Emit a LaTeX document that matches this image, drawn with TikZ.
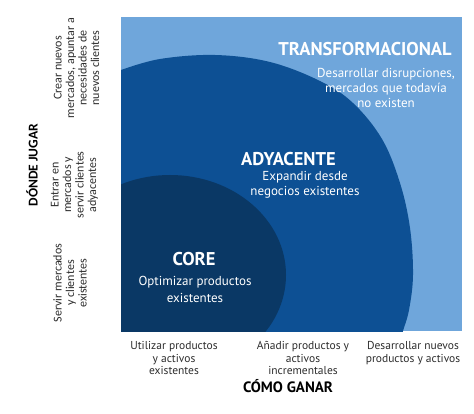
\documentclass[tikz,border=0pt]{standalone}
\usepackage{fontspec}
\setmainfont{PT Sans}
\newfontfamily\carlito{Carlito}
\definecolor{lightb}{RGB}{111,166,219}
\definecolor{midb}{RGB}{13,80,148}
\definecolor{darkb}{RGB}{10,56,101}
\definecolor{labgray}{RGB}{45,45,45}
\begin{document}
\begin{tikzpicture}[x=1pt,y=-1pt,
  ttl/.style={font=\bfseries\fontsize{18.5}{20}\selectfont, text=white, inner sep=0pt},
  sub/.style={font=\fontsize{13}{15}\selectfont, text=white, align=center, inner sep=0pt, anchor=north},
  lab/.style={font=\fontsize{11.5}{12.5}\selectfont, text=labgray, align=center, inner sep=0pt, anchor=north},
  side/.style={font=\carlito\fontsize{12}{12.5}\selectfont, text=labgray, align=center, inner sep=0pt, rotate=90},
  axis/.style={font=\bfseries\fontsize{15}{17}\selectfont, text=black, inner sep=0pt}]
\useasboundingbox (0,0) rectangle (474,414);
\fill[white] (0,0) rectangle (474,414);
\begin{scope}
\clip (121,17) rectangle (462,331);
\fill[lightb] (121,17) rectangle (462,331);
\fill[midb] (110,340) -- (110,73) -- plot[smooth, tension=0.6] coordinates {(121,70) (160,59) (215,55) (270,62) (320,81) (353,103) (382,139) (400,183) (410,228) (413,275) (409,310) (403,331) (401,340)} -- cycle;
\fill[darkb] (170,275) ellipse [x radius=116pt, y radius=100pt];
\end{scope}
% interior texts
\node[ttl] (tt) at (365,49.5) {TRANSFORMACIONAL};
\node[sub] (ts) at (386,68) {Desarrollar disrupciones,\\mercados que todavía\\no existen};
\node[ttl] (at) at (288.5,159) {ADYACENTE};
\node[sub] (as) at (305,171) {Expandir desde\\negocios existentes};
\node[ttl] (ct) at (194,259.5) {CORE};
\node[sub, font=\fontsize{13}{17}\selectfont] (cs) at (195,276.5) {Optimizar productos\\existentes};
% bottom labels
\node[lab] (b1) at (174,341.5) {Utilizar productos\\y activos\\existentes};
\node[lab] (b2) at (303,341.5) {Añadir productos y\\activos\\incrementales};
\node[lab] (b3) at (413,341.5) {Desarrollar nuevos\\productos y activos};
\node[axis] (bx) at (288,386) {CÓMO GANAR};
% side labels
\node[side] (s1) at (70,283) {Servir mercados\\y clientes\\existentes};
\node[side] (s2) at (74.5,185) {Entrar en\\mercados y\\servir clientes\\adyacentes};
\node[side] (s3) at (76.5,68) {Crear nuevos\\mercados, apuntar a\\necesidades de\\nuevos clientes};
\node[axis, font=\carlito\bfseries\fontsize{13.5}{15}\selectfont, rotate=90] (sy) at (32,165) {DÓNDE JUGAR};
\end{tikzpicture}
\end{document}
